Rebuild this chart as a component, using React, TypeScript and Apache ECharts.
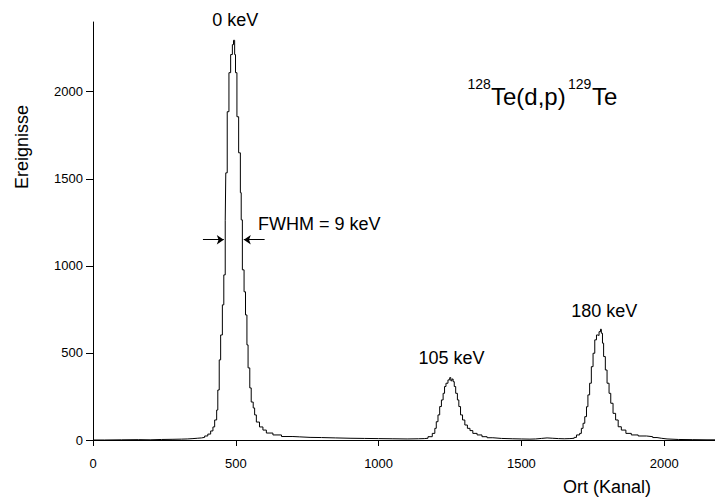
import React, { useEffect, useRef } from "react";
import * as echarts from "echarts";

// Channel (left edge of bin) and counts
const binStart: number[] = [
  0, 40, 100, 160, 200, 240, 280, 310, 330, 350, 365, 380,
  391, 402, 412, 420, 426, 433, 437, 442, 447, 453, 458, 463, 465, 470, 476, 482, 488, 492,
  496, 499, 504, 510, 516, 519, 523, 529, 534, 539, 543, 549, 554, 561, 566, 572, 583, 595, 607, 630, 660,
  700, 724, 760, 800, 850, 900, 950, 1000, 1050, 1100, 1140, 1160,
  1173, 1188, 1197, 1202, 1208, 1214, 1220, 1226, 1231, 1236, 1243, 1249, 1253, 1257, 1261, 1265, 1270,
  1276, 1281, 1287, 1294, 1302, 1311, 1320, 1330, 1345, 1362, 1380, 1400, 1430, 1470, 1500, 1530,
  1550, 1570, 1590, 1610, 1630, 1650, 1670, 1685,
  1693, 1704, 1710, 1716, 1722, 1728, 1733, 1739, 1745, 1751, 1757, 1763, 1768, 1772, 1777, 1780,
  1784, 1788, 1794, 1800, 1807, 1813, 1821, 1830, 1839, 1850, 1866, 1885, 1909, 1938, 1960, 1975,
  1990, 2010, 2050, 2100, 2150, 2178,
];
const counts: number[] = [
  0, 1, 2, 1, 3, 4, 5, 6, 8, 10, 12, 15,
  23, 34, 52, 75, 115, 172, 287, 460, 603, 776, 948, 1259, 1534, 1885, 2109, 2213, 2270, 2295,
  2213, 2109, 1856, 1649, 1420, 1264, 977, 851, 718, 546, 414, 299, 218, 184, 144, 103, 75, 57, 40, 29, 20,
  18, 15, 14, 12, 10, 9, 8, 7, 6, 7, 8, 10,
  19, 38, 67, 105, 144, 192, 230, 268, 307, 326, 345, 358, 340, 350, 335, 307, 268,
  230, 192, 144, 115, 86, 67, 54, 38, 29, 19, 13, 9, 7, 6, 5, 6,
  9, 12, 10, 8, 7, 8, 10, 15,
  29, 38, 67, 96, 134, 191, 259, 326, 421, 498, 575, 603, 600, 622, 636, 613,
  556, 479, 402, 326, 268, 211, 153, 115, 76, 57, 38, 29, 23, 19, 14, 10,
  6, 3, 2, 1, 1, 1,
];

const xTicks: number[] = [0, 500, 1000, 1500, 2000];
const yTicks: number[] = [0, 500, 1000, 1500, 2000];
const xMax = 2178;
const yMax = 2400;

const peakLabels: string[] = ["0 keV", "105 keV", "180 keV"];
const fwhmLabel = "FWHM = 9 keV";
const fwhmLevel = 1150;

const FONT = "'Liberation Sans', Arial, Helvetica, sans-serif";
const NARROW = "'Liberation Sans Narrow', 'Arial Narrow', 'Liberation Sans', Arial, sans-serif";

function txt(text: string, x: number, y: number, size: number, align = "center", vAlign = "middle", rotation = 0) {
  return {
    type: "text",
    x,
    y,
    rotation,
    silent: true,
    style: {
      text,
      fontSize: size,
      fontFamily: FONT,
      fill: "#000",
      align,
      verticalAlign: vAlign,
      textAlign: align,
      textVerticalAlign: vAlign,
    },
  };
}

export default function App() {
  const ref = useRef<HTMLDivElement>(null);
  useEffect(() => {
    if (!ref.current) return;
    const chart = echarts.init(ref.current, null, { renderer: "svg" });
    const data = binStart.map((x, i) => [x, counts[i]]);
    chart.setOption({
      animation: false,
      backgroundColor: "#fff",
      grid: { left: 93, right: 0, top: 22, bottom: 58, containLabel: false },
      xAxis: {
        type: "value",
        min: 0,
        max: xMax,
        interval: 500,
        splitLine: { show: false },
        axisLine: { show: true, lineStyle: { color: "#000", width: 1 } },
        axisTick: { show: true, length: 6, lineStyle: { color: "#000" }, customValues: xTicks },
        axisLabel: {
          color: "#000",
          fontSize: 13,
          fontFamily: NARROW,
          margin: 17,
          customValues: xTicks,
          formatter: (v: number) => String(v),
        },
      },
      yAxis: {
        type: "value",
        min: 0,
        max: yMax,
        interval: 500,
        splitLine: { show: false },
        axisLine: { show: true, lineStyle: { color: "#000", width: 1 } },
        axisTick: { show: true, length: 7, lineStyle: { color: "#000" }, customValues: yTicks },
        axisLabel: {
          color: "#000",
          fontSize: 13,
          fontFamily: NARROW,
          margin: 10,
          customValues: yTicks,
          formatter: (v: number) => String(v),
        },
      },
      series: [
        {
          type: "line",
          step: "end",
          data,
          showSymbol: false,
          symbol: "none",
          lineStyle: { color: "#000", width: 1 },
          markLine: {
            silent: true,
            symbol: ["none", "arrow"],
            symbolSize: 7,
            lineStyle: { color: "#000", width: 1, type: "solid" },
            label: { show: false },
            data: [
              [{ coord: [385, fwhmLevel] }, { coord: [458, fwhmLevel] }],
              [{ coord: [601, fwhmLevel] }, { coord: [528, fwhmLevel] }],
            ],
          },
        },
      ],
    });
    const p = (x: number, y: number) => chart.convertToPixel({ gridIndex: 0 }, [x, y]) as number[];
    const p0 = p(491, 2400);
    const p1 = p(1255, 470);
    const p2 = p(1780, 740);
    const pf = p(578, 1240);
    chart.setOption({
      graphic: [
        txt(peakLabels[0], p0[0] + 2, p0[1] - 2, 18),
        txt(peakLabels[1], p1[0], p1[1], 18),
        txt(peakLabels[2], p2[0] + 3, p2[1], 18),
        txt(fwhmLabel, pf[0], pf[1], 18, "left"),
        txt("128", 467.5, 83.5, 14, "left", "middle"),
        txt("Te(d,p)", 491, 96.5, 24, "left", "middle"),
        txt("129", 568, 83.5, 14, "left", "middle"),
        txt("Te", 592, 96.5, 24, "left", "middle"),
        txt("Ereignisse", 22, 147, 18, "center", "middle", Math.PI / 2),
        txt("Ort (Kanal)", 607, 487, 18),
      ],
    });
    return () => chart.dispose();
  }, []);
  return <div ref={ref} style={{ position: "fixed", left: 0, top: 0, width: 715, height: 498 }} />;
}
